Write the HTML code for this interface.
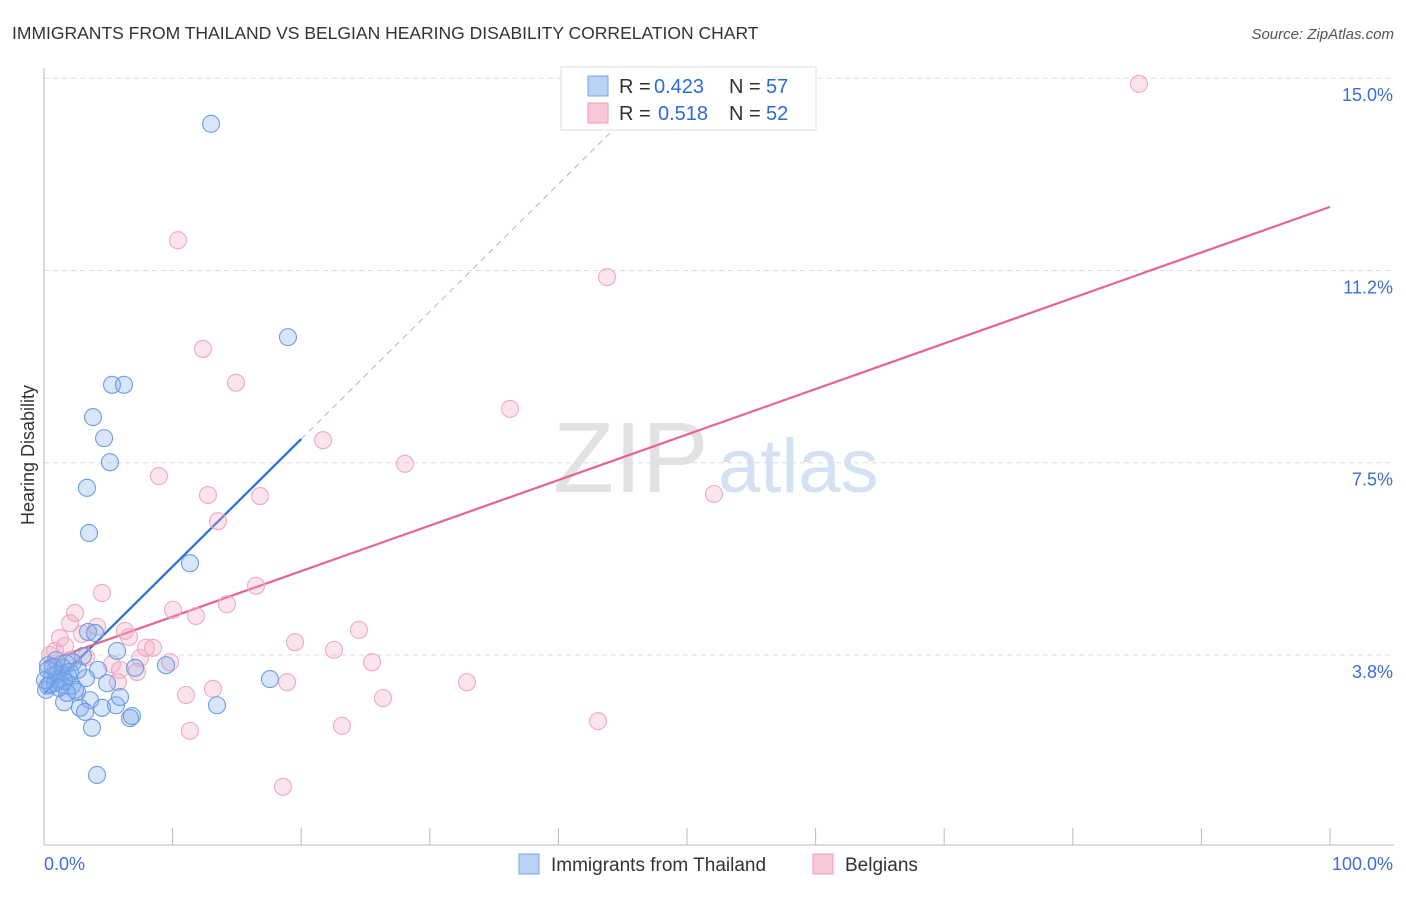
<!DOCTYPE html>
<html><head><meta charset="utf-8">
<style>
body{margin:0;background:#fff;font-family:"Liberation Sans",sans-serif;}
svg text{font-family:"Liberation Sans",sans-serif;}
</style></head>
<body>
<svg id="chart" width="1406" height="892" viewBox="0 0 1406 892" xmlns="http://www.w3.org/2000/svg">
<text x="12" y="39" font-size="17.5" fill="#333">IMMIGRANTS FROM THAILAND VS BELGIAN HEARING DISABILITY CORRELATION CHART</text>
<text x="1394" y="39" font-size="15" fill="#555" font-style="italic" text-anchor="end">Source: ZipAtlas.com</text>
<text transform="translate(34,455) rotate(-90)" font-size="18" fill="#333" text-anchor="middle">Hearing Disability</text>
<text x="553" y="492" font-size="100" fill="#e2e2e2" font-family="Liberation Serif">ZIP</text>
<text x="718" y="492" font-size="76" fill="#d3e1f3">atlas</text>
<g id="grid"></g><g id="axes"></g><g id="lines"></g><g id="pts"></g>
<g>
<rect x="561" y="67" width="255" height="63" fill="#fff" stroke="#ddd"/>
<rect x="588" y="76" width="20" height="20" fill="#b9d3f4" stroke="#7aa6e6"/>
<text x="619" y="93" font-size="20" fill="#333">R =</text>
<text x="654" y="93" font-size="20" fill="#2f6bd4">0.423</text>
<text x="729" y="93" font-size="20" fill="#333">N =</text>
<text x="766" y="93" font-size="20" fill="#2f6bd4">57</text>
<rect x="588" y="103" width="20" height="20" fill="#f9c8d7" stroke="#ec9bb6"/>
<text x="619" y="120" font-size="20" fill="#333">R =</text>
<text x="658" y="120" font-size="20" fill="#2f6bd4">0.518</text>
<text x="729" y="120" font-size="20" fill="#333">N =</text>
<text x="766" y="120" font-size="20" fill="#2f6bd4">52</text>
</g>
<g>
<rect x="519" y="854" width="20" height="20" fill="#b9d3f4" stroke="#7aa6e6"/>
<text x="551" y="871" font-size="19" fill="#333">Immigrants from Thailand</text>
<rect x="813" y="854" width="20" height="20" fill="#f9c8d7" stroke="#ec9bb6"/>
<text x="845" y="871" font-size="19" fill="#333">Belgians</text>
</g>
</svg>
<script>
const yTicks=[3.8,7.5,11.2,15.0];
const yTickVals=[3.75,7.5,11.25,15.0];
const xTickLabels=["0.0%","100.0%"];
const blueX=[12.99,18.97,5.29,6.22,3.81,4.67,5.13,3.34,3.50,11.35,3.42,3.97,5.68,3.03,0.93,1.71,2.26,0.31,1.48,4.20,7.08,9.49,17.57,0.62,1.24,1.87,3.27,0.31,0.86,1.40,2.18,2.57,4.90,3.58,1.56,2.80,3.19,4.51,5.60,5.91,6.69,6.84,13.45,3.73,4.12,0.16,0.47,1.01,2.02,2.41,0.08,0.70,2.64,1.56,1.17,1.79,0.31];
const blueY=[14.11,9.95,9.02,9.02,8.39,7.98,7.51,7.01,6.13,5.54,4.20,4.18,3.83,3.73,3.65,3.59,3.61,3.55,3.50,3.46,3.50,3.55,3.28,3.34,3.28,3.34,3.30,3.15,3.20,3.18,3.15,3.03,3.20,2.87,2.83,2.72,2.64,2.72,2.77,2.93,2.52,2.56,2.77,2.33,1.41,3.07,3.18,3.38,3.42,3.07,3.26,3.52,3.46,3.24,3.11,3.01,3.46];
const pinkX=[85.15,10.42,43.78,12.36,14.93,36.24,21.70,28.07,8.94,12.75,16.80,52.10,13.53,4.51,16.49,2.41,10.03,14.23,11.82,2.02,4.12,1.24,6.30,6.61,2.95,7.93,8.48,19.52,24.49,1.63,0.86,3.27,7.47,5.29,9.80,22.55,25.51,7.23,5.91,5.75,18.90,32.89,13.14,11.04,26.36,43.08,11.35,23.17,18.58,0.47,2.02,0.86];
const pinkY=[14.89,11.84,11.12,9.72,9.06,8.55,7.94,7.48,7.24,6.87,6.85,6.89,6.36,4.96,5.10,4.57,4.63,4.74,4.51,4.37,4.30,4.08,4.22,4.10,4.16,3.89,3.89,4.00,4.24,3.93,3.83,3.71,3.69,3.57,3.61,3.85,3.61,3.42,3.46,3.22,3.22,3.22,3.09,2.97,2.91,2.46,2.27,2.37,1.18,3.75,3.65,3.46];
const blueFit=[2.99,0.2486];
const pinkFit=[3.61,0.0888];
const NS="http://www.w3.org/2000/svg";
const sx=v=>44+v*12.86;
const sy=v=>655-(v-3.75)*51.27;
function mk(tag,attrs,parent){const e=document.createElementNS(NS,tag);for(const k in attrs)e.setAttribute(k,attrs[k]);document.getElementById(parent).appendChild(e);return e;}
yTicks.forEach((t,i)=>{
  const g=mk('line',{x1:44,x2:1394,y1:sy(yTickVals[i]),y2:sy(yTickVals[i]),stroke:'#ddd','stroke-dasharray':'5,4'},'grid');
  
  
  const tx=mk('text',{x:1393,y:sy(yTickVals[i])+23,'font-size':18,fill:'#3b6fd4','text-anchor':'end'},'grid');
  tx.textContent=t.toFixed(1)+'%';
  
  
});
const ax=mk('line',{x1:44,x2:44,y1:68,y2:845,stroke:'#bbb'},'axes');


const bx=mk('line',{x1:44,x2:1394,y1:845,y2:845,stroke:'#bbb'},'axes');


for(let i=0;i<=10;i++){const t=mk('line',{x1:sx(i*10),x2:sx(i*10),y1:828,y2:845,stroke:'#bbb'},'axes');
  
  }
const l0=mk('text',{x:44,y:870,'font-size':18,fill:'#3b6fd4'},'axes');l0.textContent=xTickLabels[0];


const l1=mk('text',{x:1393,y:870,'font-size':18,fill:'#3b6fd4','text-anchor':'end'},'axes');l1.textContent=xTickLabels[1];


function pts(X,Y,fill,stroke,name){X.forEach((x,i)=>{const c=mk('circle',{cx:sx(x),cy:sy(Y[i]),r:8.5,fill:fill,stroke:stroke,'stroke-width':1.1},'pts');
  
  });}
pts(pinkX,pinkY,'rgba(244,165,192,0.3)','#eeaac0','belgians-point');
pts(blueX,blueY,'rgba(130,172,238,0.3)','#6f9de2','thailand-point');
const bl=mk('line',{x1:sx(0),y1:sy(blueFit[0]),x2:sx(20),y2:sy(blueFit[0]+blueFit[1]*20),stroke:'#2a6fd6','stroke-width':2.2},'lines');


const bd=mk('line',{x1:sx(20),y1:sy(blueFit[0]+blueFit[1]*20),x2:sx(48),y2:sy(blueFit[0]+blueFit[1]*48),stroke:'#9bb8e4','stroke-width':1,'stroke-dasharray':'6,5'},'lines');


const pl=mk('line',{x1:sx(0),y1:sy(pinkFit[0]),x2:sx(100),y2:sy(pinkFit[0]+pinkFit[1]*100),stroke:'#e6648e','stroke-width':2.2},'lines');


</script>
</body></html>
